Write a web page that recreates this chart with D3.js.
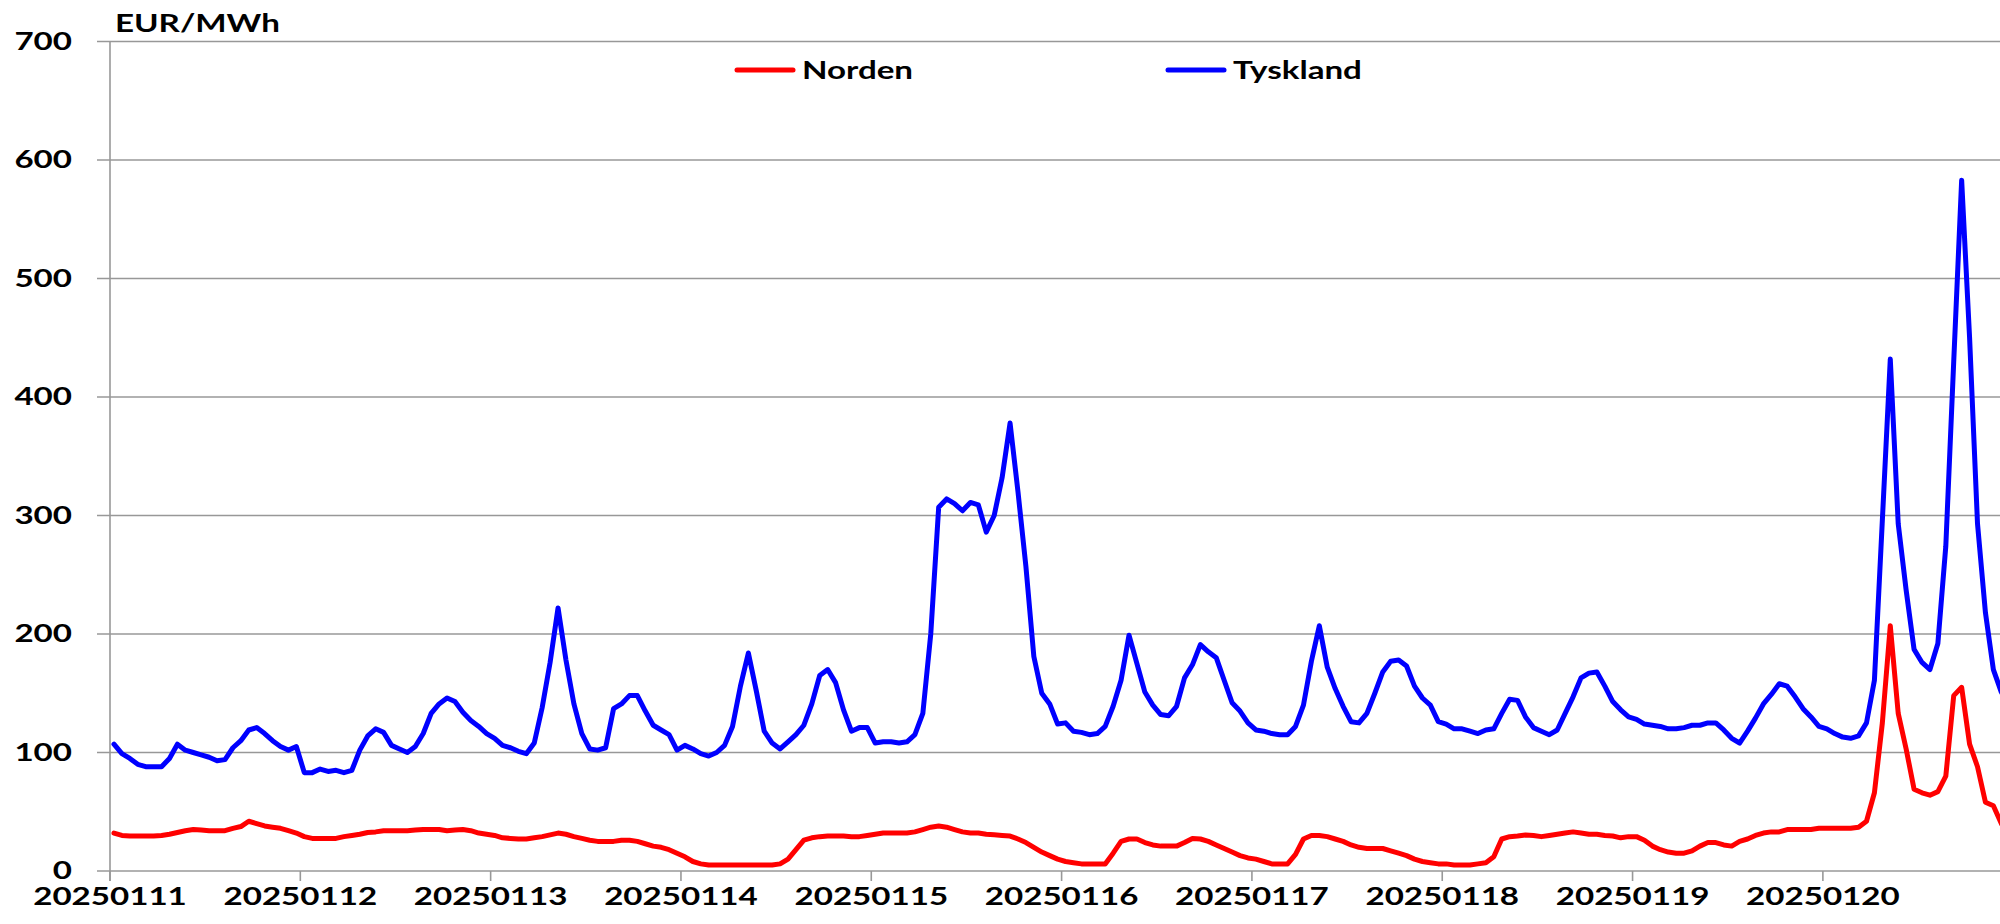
<!DOCTYPE html>
<html><head><meta charset="utf-8">
<script src="https://cdn.jsdelivr.net/npm/d3@7"></script>
<style>
html,body{margin:0;padding:0;background:#fff;overflow:hidden}
text{font-family:Lato,"Open Sans",sans-serif;font-weight:700;fill:#000}
</style></head>
<body><svg id="chart" width="2000" height="924"></svg>
<script>
const days = ["20250111","20250112","20250113","20250114","20250115","20250116","20250117","20250118","20250119","20250120"];
const yTicks = [0,100,200,300,400,500,600,700];
const seriesNames = ["Norden","Tyskland"];
const unitLabel = "EUR/MWh";

const norden = [
 32,30,29.5,29.5,29.5,29.5,30,31,32.5,34,35,34.5,34,34,34,36,37.5,42,40,38,37,36,34,32,
 29,27.5,27.5,27.5,27.5,29,30,31,32.5,33,34,34,34,34,34.5,35,35,35,34,34.5,35,34,32,31,
 30,28,27.5,27,27,28,29,30.5,32,31,29,27.5,26,25,25,25,26,26,25,23,21,20,18,15,
 12,8,6,5,5,5,5,5,5,5,5,5,6,10,18,26,28,29,29.5,29.5,29.5,29,29,30,
 31,32,32,32,32,33,35,37,38,37,35,33,32,32,31,30.5,30,29.5,27,24,20,16,13,10,
 8,7,6,6,6,6,15,25,27,27,24,22,21,21,21,24,27.5,27,25,22,19,16,13,11,
 10,8,6,6,6,14,27,30,30,29,27,25,22,20,19,19,19,17,15,13,10,8,7,6,
 6,5,5,5,6,7,12,27,29,29.5,30.4,30,29,30,31,32,33,32,31,31,30,29.5,28,29,
 29,26,21,18,16,15,15,17,21,24,24,22,21,25,27,30,32,33,33,35,35,35,35,36,
 36,36,36,36,37,42,66,125,207,133,103,69,66,64,67,80,148,155,107,88,58,55,40,30
];
const tyskland = [
 107,99,95,90,88,88,88,95,107,102,100,98,96,93,94,104,110,119,121,116,110,105,102,105,
 83,83,86,84,85,83,85,102,114,120,117,106,103,100,105,116,133,141,146,143,134,127,122,116,
 112,106,104,101,99,108,138,176,222,178,141,116,103,102,104,137,141,148,148,135,123,119,115,102,
 106,103,99,97,100,106,122,156,184,152,118,108,103,109,115,123,141,165,170,159,136,118,121,121,
 108,109,109,108,109,115,133,200,307,314,310,304,311,309,286,300,332,378,320,257,181,150,141,124,
 125,118,117,115,116,122,139,161,199,175,151,140,132,131,139,163,174,191,185,180,161,142,135,125,
 119,118,116,115,115,122,140,177,207,172,154,139,126,125,133,150,168,177,178,173,156,146,140,126,
 124,120,120,118,116,119,120,133,145,144,130,121,118,115,119,133,147,163,167,168,156,143,136,130,
 128,124,123,122,120,120,121,123,123,125,125,119,112,108,118,129,141,149,158,156,147,137,130,122,
 120,116,113,112,114,125,161,296,432,293,237,187,176,170,192,274,430,583,450,293,218,170,151,140
];
const colors = ["#ff0000","#0000ff"];

const svg = d3.select("#chart");
const left = 110, y0 = 871, yTop = 41.5;
const hourW = 7.93;
const sx = 1.38, fs = 24;
const x = d3.scaleLinear().domain([0, 240]).range([left, left + 240*hourW]);
const y = d3.scaleLinear().domain([0, 700]).range([y0, yTop]);

function label(g, tx, ty, txt, anchor) {
  return g.append("text")
    .attr("transform", `translate(${tx},${ty}) scale(${sx},1)`)
    .attr("text-anchor", anchor || "start")
    .attr("font-size", fs).text(txt);
}

// gridlines
svg.append("g").selectAll("line").data(yTicks).join("line")
  .attr("x1", left - 13).attr("x2", 2000)
  .attr("y1", d => y(d)).attr("y2", d => y(d))
  .attr("stroke", "#989898").attr("stroke-width", 1.6);
// y axis line
svg.append("line").attr("x1", left).attr("x2", left).attr("y1", y(700)).attr("y2", y0 + 10)
  .attr("stroke", "#989898").attr("stroke-width", 1.6);
// x ticks
svg.append("g").selectAll("line").data(days).join("line")
  .attr("x1", (d,i) => x(i*24)).attr("x2", (d,i) => x(i*24))
  .attr("y1", y0).attr("y2", y0 + 10)
  .attr("stroke", "#989898").attr("stroke-width", 1.6);

// y labels
const gy = svg.append("g");
yTicks.forEach(d => label(gy, 72, y(d) + 8, d, "end"));
// x labels
const gx = svg.append("g");
days.forEach((d, i) => label(gx, x(i*24), 905, d, "middle"));
// unit
label(svg, 115, 32, unitLabel);

// lines
const line = d3.line().x((d,i) => x(i + 0.5)).y(d => y(d));
[norden, tyskland].forEach((s, k) => {
  svg.append("path").datum(s).attr("d", line)
    .attr("fill", "none").attr("stroke", colors[k]).attr("stroke-width", 5)
    .attr("stroke-linejoin", "round").attr("stroke-linecap", "round");
});

// legend
const legX = [737, 1168];
seriesNames.forEach((n, k) => {
  svg.append("line").attr("x1", legX[k]).attr("x2", legX[k] + 56).attr("y1", 70).attr("y2", 70)
    .attr("stroke", colors[k]).attr("stroke-width", 5).attr("stroke-linecap", "round");
  label(svg, legX[k] + 65, 79, n);
});
</script></body></html>
